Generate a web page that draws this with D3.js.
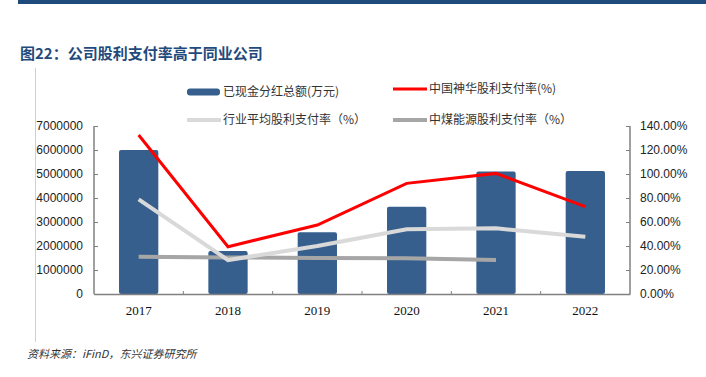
<!DOCTYPE html>
<html>
<head>
<meta charset="utf-8">
<script src="https://cdn.jsdelivr.net/npm/d3@7"></script>
<style>
  body { margin: 0; background: #fff; }
  svg { display: block; }
</style>
</head>
<body>
<div id="chart"></div>
<script>
// data
const years = ['2017', '2018', '2019', '2020', '2021', '2022'];
const dividend = [6000000, 1790000, 2570000, 3640000, 5100000, 5120000]; // 已现金分红总额(万元)
const shenhuaRate = [132.5, 39.4, 57.5, 92.2, 100.5, 72.8];   // 中国神华股利支付率(%)
const industryRate = [78.9, 28.3, 40.0, 54.0, 54.7, 47.8];    // 行业平均股利支付率（%）
const chinacoalRate = [31.1, 30.5, 30.0, 29.7, 28.3];         // 中煤能源股利支付率（%）
const leftTicks = [0, 1000000, 2000000, 3000000, 4000000, 5000000, 6000000, 7000000];
const rightTicks = [0, 20, 40, 60, 80, 100, 120, 140];

const width = 706, height = 377;
const margin = {top: 126, right: 76, bottom: 83, left: 94};

const svg = d3.select('#chart').append('svg')
	.attr('width', width).attr('height', height);

// top banner + title
svg.append('rect').attr('x', 18).attr('y', 0).attr('width', width - 18).attr('height', 4).attr('fill', '#1f4a7c');
svg.append('text').attr('x', 20).attr('y', 59)
	.attr('font-family', 'Noto Sans CJK SC, sans-serif').attr('font-size', 15).attr('font-weight', 'bold')
	.attr('fill', '#1f4a7c').text('图22：公司股利支付率高于同业公司');

// thin left frame line
svg.append('line').attr('x1', 35.5).attr('x2', 35.5).attr('y1', 68).attr('y2', 342)
	.attr('stroke', '#d0d0d0').attr('stroke-width', 1);

const x = d3.scaleBand().domain(years).range([margin.left, width - margin.right]);
const yL = d3.scaleLinear().domain([0, 7000000]).range([height - margin.bottom, margin.top]);
const yR = d3.scaleLinear().domain([0, 140]).range([height - margin.bottom, margin.top]);

const axisColor = '#808080';

// bars
const bw = x.bandwidth() * 0.44;
svg.append('g').selectAll('rect')
	.data(dividend)
	.join('rect')
	.attr('x', (d, i) => x(years[i]) + x.bandwidth() / 2 - bw / 2)
	.attr('y', d => yL(d))
	.attr('width', bw)
	.attr('height', d => yL(0) - yL(d))
	.attr('rx', 2)
	.attr('fill', '#375f8e');

// lines
const lineR = d3.line().x((d, i) => x(years[i]) + x.bandwidth() / 2).y(d => yR(d));
svg.append('path').datum(chinacoalRate).attr('d', lineR)
	.attr('fill', 'none').attr('stroke', '#a6a6a6').attr('stroke-width', 4);
svg.append('path').datum(industryRate).attr('d', lineR)
	.attr('fill', 'none').attr('stroke', '#d9d9d9').attr('stroke-width', 4);
svg.append('path').datum(shenhuaRate).attr('d', lineR)
	.attr('fill', 'none').attr('stroke', '#ff0000').attr('stroke-width', 3);

// left axis
const gL = svg.append('g').attr('transform', `translate(${margin.left},0)`)
	.call(d3.axisLeft(yL).tickValues(leftTicks).tickFormat(d3.format('d')).tickSize(-4).tickPadding(11));
// right axis
const gR = svg.append('g').attr('transform', `translate(${width - margin.right},0)`)
	.call(d3.axisRight(yR).tickValues(rightTicks).tickFormat(d => d.toFixed(2) + '%').tickSize(-4).tickPadding(10));
// bottom axis
const gB = svg.append('g').attr('transform', `translate(0,${height - margin.bottom})`)
	.call(d3.axisBottom(x).tickSize(0).tickPadding(12));
// ticks between categories
svg.append('g').selectAll('line')
	.data(years.slice(1))
	.join('line')
	.attr('x1', d => x(d)).attr('x2', d => x(d))
	.attr('y1', yL(0)).attr('y2', yL(0) - 3)
	.attr('stroke', axisColor);

[gL, gR].forEach(g => {
	g.select('.domain').attr('stroke', axisColor).attr('d', g === gL
		? `M0,${yL(7000000)}V${yL(0)}` : `M0,${yR(140)}V${yR(0)}`).attr('stroke-width', 1.5);
	g.selectAll('.tick line').attr('stroke', axisColor);
	g.selectAll('.tick text').attr('font-family', 'Liberation Sans, Arial, sans-serif').attr('font-size', 12).attr('fill', '#222');
});
gB.select('.domain').attr('stroke', axisColor).attr('stroke-width', 1.5);
gB.selectAll('.tick text').attr('font-family', 'Liberation Serif, Times New Roman, serif').attr('font-size', 13).attr('fill', '#111');

// legend
const legend = [
	{label: '已现金分红总额(万元)', type: 'bar', color: '#375f8e', x: 187, y: 92},
	{label: '中国神华股利支付率(%)', type: 'line', color: '#ff0000', w: 3, x: 393, y: 89},
	{label: '行业平均股利支付率（%）', type: 'line', color: '#d9d9d9', w: 4, x: 187, y: 120},
	{label: '中煤能源股利支付率（%）', type: 'line', color: '#a6a6a6', w: 4, x: 393, y: 120}
];
const lg = svg.append('g').selectAll('g').data(legend).join('g')
	.attr('transform', d => `translate(${d.x},${d.y})`);
lg.each(function(d) {
	const g = d3.select(this);
	if (d.type === 'bar') {
		g.append('rect').attr('x', 0).attr('y', -3.5).attr('width', 33).attr('height', 7).attr('rx', 3).attr('fill', d.color);
	} else {
		g.append('line').attr('x1', 0).attr('x2', 34).attr('y1', 0).attr('y2', 0)
			.attr('stroke', d.color).attr('stroke-width', d.w);
	}
	g.append('text').attr('x', 36).attr('y', 0).attr('dy', '0.35em')
		.attr('font-family', 'Noto Sans CJK SC, sans-serif').attr('font-size', 12).attr('fill', '#333')
		.text(d.label);
});

// source
svg.append('text').attr('x', 27).attr('y', 358)
	.attr('font-family', 'Noto Sans CJK SC, sans-serif').attr('font-size', 11).attr('font-style', 'italic')
	.attr('fill', '#333').text('资料来源：iFinD，东兴证券研究所');
</script>
</body>
</html>
